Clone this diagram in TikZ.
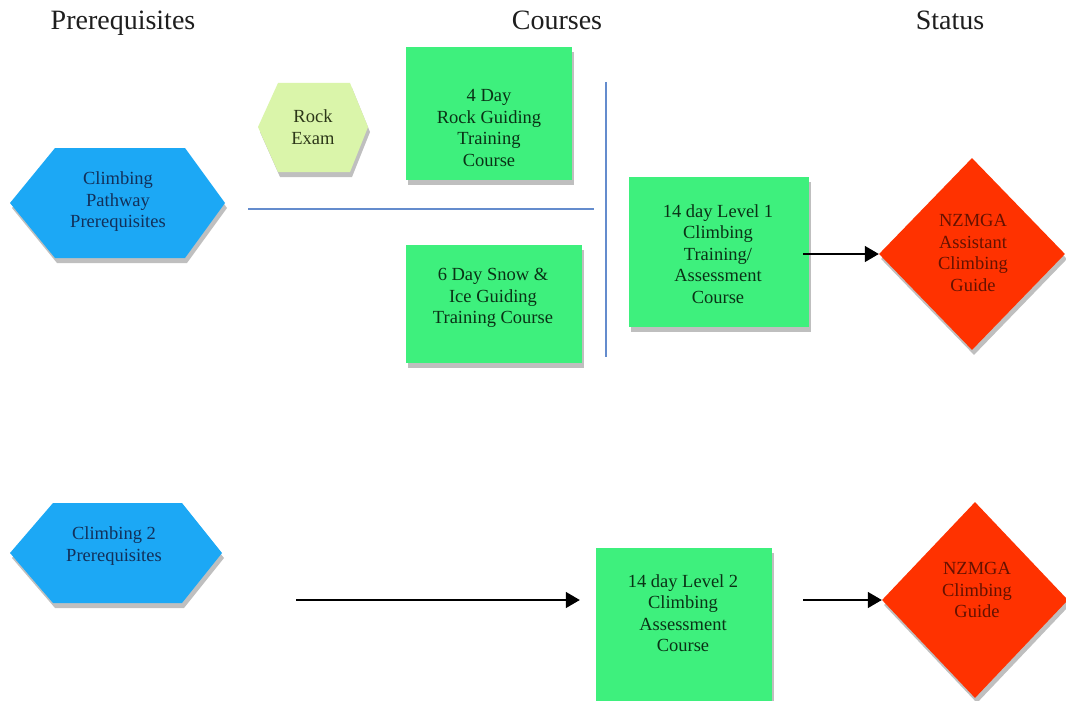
\documentclass[tikz,border=0pt]{standalone}
\usepackage{fontspec}
\setmainfont{Liberation Serif}
\usetikzlibrary{shapes.geometric,shadows,arrows.meta}
\definecolor{hexblue}{RGB}{28,168,245}
\definecolor{hextext}{RGB}{18,48,90}
\definecolor{rockfill}{RGB}{218,245,170}
\definecolor{rocktext}{RGB}{45,55,25}
\definecolor{boxgreen}{RGB}{62,240,125}
\definecolor{greentext}{RGB}{10,50,22}
\definecolor{dred}{RGB}{255,50,0}
\definecolor{redtext}{RGB}{100,18,0}
\definecolor{lineblue}{RGB}{100,140,205}
\definecolor{titlegray}{RGB}{30,30,30}
\tikzset{
  shad/.style={drop shadow={shadow xshift=2pt,shadow yshift=-5pt,opacity=0.25,fill=black}},
  lbl/.style={align=center,font=\fontsize{18.5}{21.5}\selectfont,inner sep=0pt},
  ttl/.style={anchor=base,font=\fontsize{28}{30}\selectfont,text=titlegray,inner sep=0pt},
  boxnode/.style={rectangle,fill=boxgreen,shad,inner sep=0pt},
  dia/.style={diamond,fill=dred,shad,inner sep=0pt,minimum width=186pt,minimum height=192pt},
  arr/.style={draw=black,line width=1.4pt,-{Triangle[length=14pt,width=16pt]}},
  bline/.style={draw=lineblue,line width=1.8pt}
}
\begin{document}
\begin{tikzpicture}[x=1pt,y=-1pt]
\useasboundingbox (0,0) rectangle (1066,701);
\fill[white] (0,0) rectangle (1066,701);
% titles
\node[ttl] (tpre) at (123,30) {Prerequisites};
\node[ttl] (tcou) at (557,30) {Courses};
\node[ttl] (tsta) at (950,30) {Status};
% hexagons
\fill[hexblue,shad] (10,203) -- (55,148) -- (185,148) -- (225,203) -- (185,258) -- (55,258) -- cycle;
\node[lbl,text=hextext] (cpp) at (118,202) {Climbing\\Pathway\\Prerequisites};
\fill[rockfill,shad] (258,127) -- (278,83) -- (350,83) -- (368,127) -- (350,172) -- (278,172) -- cycle;
\node[lbl,text=rocktext] (rock) at (313,127) {Rock\\Exam};
\fill[hexblue,shad] (10,553) -- (53,503) -- (182,503) -- (222,553) -- (182,603) -- (53,603) -- cycle;
\node[lbl,text=hextext] (c2p) at (114,546) {Climbing 2\\Prerequisites};
% boxes
\node[boxnode,minimum width=166pt,minimum height=133pt] (r4) at (489,113.5) {};
\node[lbl,text=greentext] (r4t) at (489,128) {4 Day\\Rock Guiding\\Training\\Course};
\node[boxnode,minimum width=176pt,minimum height=118pt] (s6) at (494,304) {};
\node[lbl,text=greentext] (s6t) at (493,298) {6 Day Snow \&\\Ice Guiding\\Training Course};
\node[boxnode,minimum width=180pt,minimum height=150pt] (l1) at (719,252) {};
\node[lbl,text=greentext] (l1t) at (718,254) {14 day Level 1\\Climbing\\Training/\\Assessment\\Course};
\node[boxnode,minimum width=176pt,minimum height=154pt] (l2) at (684,625) {};
\node[lbl,text=greentext] (l2t) at (683,613) {14 day Level 2\\Climbing\\Assessment\\Course};
% diamonds
\node[dia] (d1) at (972,254) {};
\node[lbl,text=redtext] (d1t) at (973,253) {NZMGA\\Assistant\\Climbing\\Guide};
\node[dia,minimum height=196pt] (d2) at (975,600) {};
\node[lbl,text=redtext] (d2t) at (977,590) {NZMGA\\Climbing\\Guide};
% blue lines
\coordinate (hA) at (248,209);
\coordinate (hB) at (594,209);
\coordinate (vA) at (606,82);
\coordinate (vB) at (606,357);
\draw[bline] (hA) -- (hB);
\draw[bline] (vA) -- (vB);
% arrows
\draw[arr] ([xshift=-6pt]d1.west -| l1.east) -- (d1.west);
\coordinate (c2s) at (296,600);
\draw[arr] (c2s) -- ([xshift=-16pt]c2s -| l2.west);
\draw[arr] ([xshift=31pt]d2.west -| l2.east) -- (d2.west);
\end{tikzpicture}
\end{document}
